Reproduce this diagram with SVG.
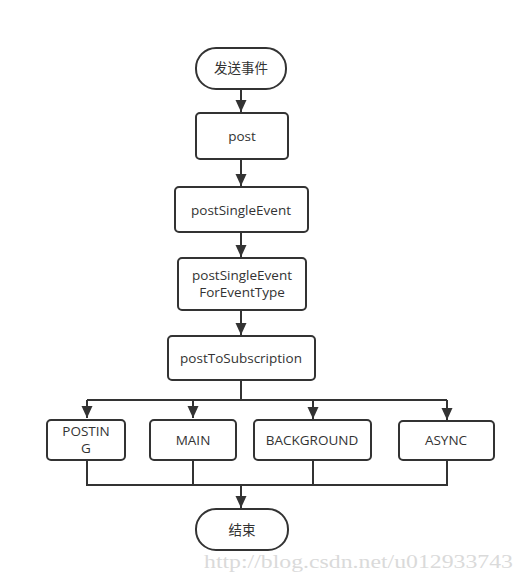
<svg xmlns="http://www.w3.org/2000/svg" width="526" height="582" viewBox="0 0 526 582">
<style>
.n{fill:#fff;stroke:#333;stroke-width:2}
.t{font-family:"Open Sans","Noto Sans CJK SC",sans-serif;font-size:13.5px;fill:#333;text-anchor:middle}
.c{fill:none;stroke:#333;stroke-width:2}
.wm{font-family:"Liberation Serif",serif;font-size:18px;fill:#dadada}
</style>
<defs>
<marker id="ah" markerWidth="11" markerHeight="12" refX="12" refY="6" orient="auto" markerUnits="userSpaceOnUse">
<path d="M0,0.5 L12,6 L0,11.5 Z" fill="#333"/>
</marker>
</defs>
<rect width="526" height="582" fill="#fff"/>
<g id="connectors">
<path class="c" d="M241,89 V112" marker-end="url(#ah)"/>
<path class="c" d="M241,159 V186" marker-end="url(#ah)"/>
<path class="c" d="M241,232 V257" marker-end="url(#ah)"/>
<path class="c" d="M241,310 V335" marker-end="url(#ah)"/>
<path class="c" d="M241,380 V400"/>
<path class="c" d="M87,400 H447"/>
<path class="c" d="M87,400 V418" marker-end="url(#ah)"/>
<path class="c" d="M193,400 V418" marker-end="url(#ah)"/>
<path class="c" d="M313,400 V419" marker-end="url(#ah)"/>
<path class="c" d="M447,400 V420" marker-end="url(#ah)"/>
<path class="c" d="M87,460 V485 H447 V460"/>
<path class="c" d="M193,460 V485"/>
<path class="c" d="M313,460 V485"/>
<path class="c" d="M241,485 V508" marker-end="url(#ah)"/>
</g>
<g id="start"><rect class="n" x="196" y="48" width="90" height="41" rx="20"/><text class="t" x="241" y="73">发送事件</text></g>
<g id="post"><rect class="n" x="196" y="113" width="92" height="46" rx="4"/><text class="t" x="242" y="141">post</text></g>
<g id="postSingleEvent"><rect class="n" x="175" y="187" width="133" height="45" rx="4"/><text class="t" x="241" y="215">postSingleEvent</text></g>
<g id="postSingleEventForEventType"><rect class="n" x="178" y="258" width="128" height="52" rx="4"/><text class="t" x="242" y="280">postSingleEvent</text><text class="t" x="242" y="297">ForEventType</text></g>
<g id="postToSubscription"><rect class="n" x="168" y="336" width="147" height="44" rx="4"/><text class="t" x="241" y="363">postToSubscription</text></g>
<g id="posting"><rect class="n" x="47" y="420" width="78" height="40" rx="4"/><text class="t" x="86" y="436">POSTIN</text><text class="t" x="86" y="453">G</text></g>
<g id="main"><rect class="n" x="150" y="420" width="86" height="40" rx="4"/><text class="t" x="193" y="445">MAIN</text></g>
<g id="background"><rect class="n" x="254" y="420" width="117" height="40" rx="4"/><text class="t" x="312" y="445">BACKGROUND</text></g>
<g id="async"><rect class="n" x="399" y="421" width="95" height="39" rx="4"/><text class="t" x="446" y="445">ASYNC</text></g>
<g id="end"><rect class="n" x="196" y="509" width="92" height="41" rx="20"/><text class="t" x="242" y="535">结束</text></g>
<text class="wm" x="204" y="568" textLength="309" lengthAdjust="spacingAndGlyphs">http://blog.csdn.net/u012933743</text>
</svg>
